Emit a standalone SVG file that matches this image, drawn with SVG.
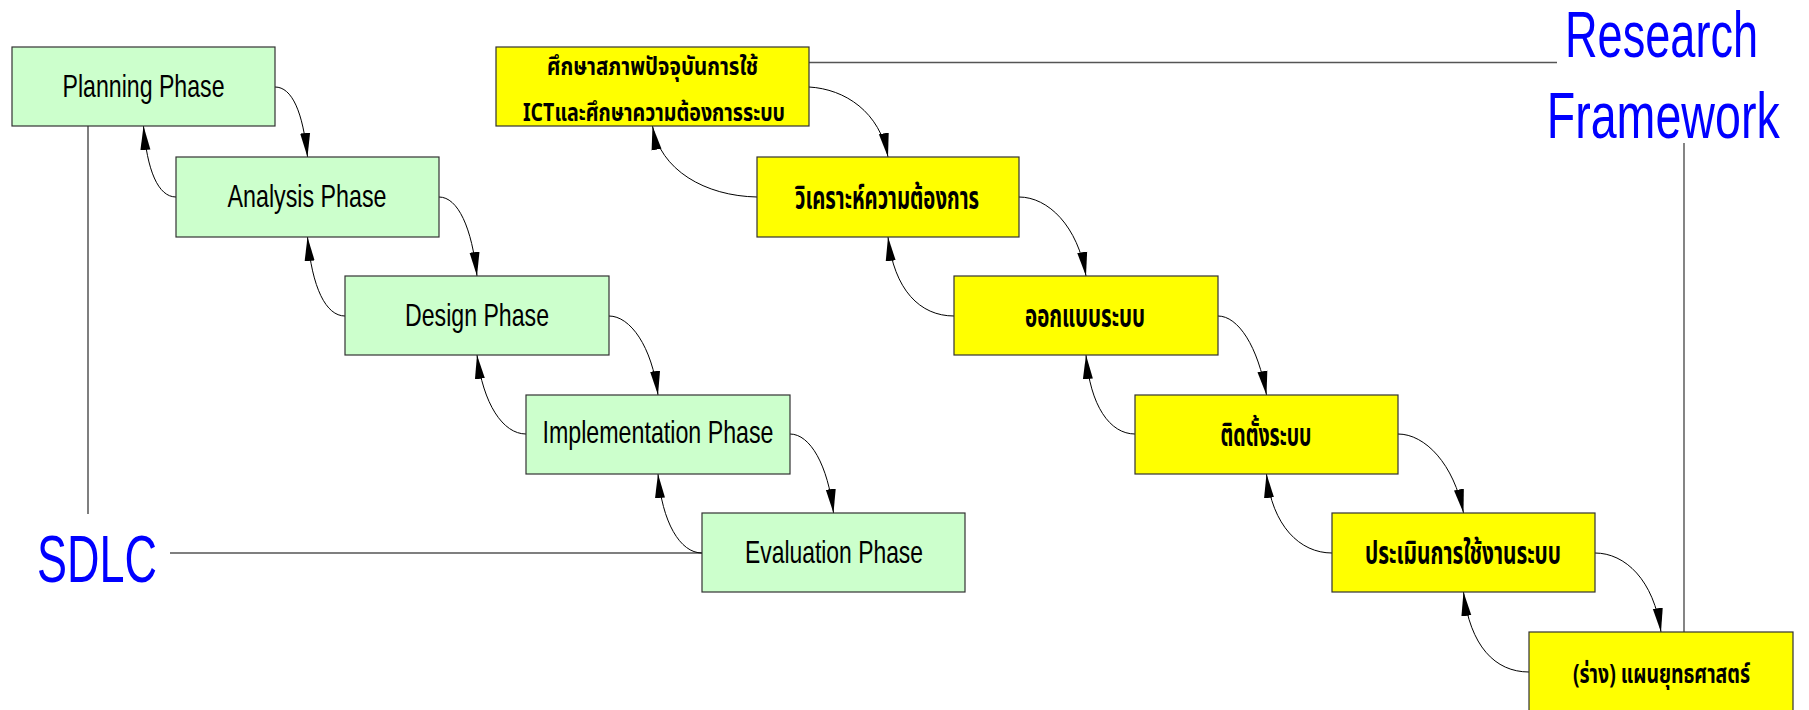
<svg xmlns="http://www.w3.org/2000/svg" width="1809" height="710" viewBox="0 0 1809 710">
  <defs>
    <marker id="ah" markerUnits="userSpaceOnUse" markerWidth="26" markerHeight="12" refX="24" refY="6" orient="auto">
      <path d="M0,1 L24,6 L0,11 z" fill="#000"/>
    </marker>
    <style>
      .g { fill: #CCFFCC; stroke: #333; stroke-width: 1.2; }
      .y { fill: #FFFF00; stroke: #333; stroke-width: 1.2; }
      .lbl { font-family: "Liberation Sans Narrow", "Liberation Sans", Arial, sans-serif; font-size: 32px; fill: #000; text-anchor: middle; }
      .th { font-family: "Noto Sans Thai", "Noto Sans Thai UI", "Loma", "Garuda", "Tlwg Typo", "Norasi", "Noto Sans", sans-serif; font-size: 31px; font-weight: bold; fill: #000; text-anchor: middle; }
      .th1 { font-size: 25px; }
      .big { font-family: "Liberation Sans", Arial, sans-serif; font-size: 66px; fill: #0000FF; }
      .c { fill: none; stroke: #000; stroke-width: 1; marker-end: url(#ah); }
      .ln { fill: none; stroke: #555; stroke-width: 1.5; }
    </style>
  </defs>

  <g id="connectors">
    <!-- guide lines -->
    <path class="ln" d="M88,126 L88,514"/>
    <path class="ln" d="M170,553 L702,553"/>
    <path class="ln" d="M809,62.5 L1557,62.5"/>
    <path class="ln" d="M1684,143 L1684,632" style="stroke:#333;stroke-width:1.2"/>
    <!-- green forward -->
    <path class="c" d="M275,87 C292,87 303,112 307.5,157"/>
    <path class="c" d="M439,197 C458,197 472,228 477,276"/>
    <path class="c" d="M609,316 C630,316 652,346 658,395"/>
    <path class="c" d="M790,434 C810,434 828,465 833.5,513"/>
    <!-- green back -->
    <path class="c" d="M176,197 C158,197 147,170 143.5,126"/>
    <path class="c" d="M345,316 C326,316 312,288 307.5,237"/>
    <path class="c" d="M526,434 C503,434 483,404 477,355"/>
    <path class="c" d="M702,553 C680,553 662,522 658,474"/>
    <!-- yellow forward -->
    <path class="c" d="M809,87 C845,89 880,112 888,157"/>
    <path class="c" d="M1019,197 C1048,197 1078,226 1086,276"/>
    <path class="c" d="M1218,316 C1238,316 1258,346 1266.5,395"/>
    <path class="c" d="M1398,434 C1425,434 1454,464 1463.5,513"/>
    <path class="c" d="M1595,553 C1625,553 1654,580 1661,632"/>
    <!-- yellow back -->
    <path class="c" d="M757,197 C705,196 660,170 652.5,126"/>
    <path class="c" d="M954,316 C920,316 894,290 888,237"/>
    <path class="c" d="M1135,434 C1110,434 1090,406 1086,355"/>
    <path class="c" d="M1332,553 C1300,553 1272,526 1266.5,474"/>
    <path class="c" d="M1529,672 C1495,672 1470,646 1463.5,592"/>
  </g>

  <g id="planning">
    <rect class="g" x="12" y="47" width="263" height="79"/>
    <text class="lbl" x="143.5" y="96.7" textLength="162" lengthAdjust="spacingAndGlyphs">Planning Phase</text>
  </g>
  <g id="analysis">
    <rect class="g" x="176" y="157" width="263" height="80"/>
    <text class="lbl" x="307" y="206.7" textLength="159" lengthAdjust="spacingAndGlyphs">Analysis Phase</text>
  </g>
  <g id="design">
    <rect class="g" x="345" y="276" width="264" height="79"/>
    <text class="lbl" x="477" y="325.7" textLength="144" lengthAdjust="spacingAndGlyphs">Design Phase</text>
  </g>
  <g id="implementation">
    <rect class="g" x="526" y="395" width="264" height="79"/>
    <text class="lbl" x="658" y="443" textLength="231" lengthAdjust="spacingAndGlyphs">Implementation Phase</text>
  </g>
  <g id="evaluation">
    <rect class="g" x="702" y="513" width="263" height="79"/>
    <text class="lbl" x="834" y="563.3" textLength="178" lengthAdjust="spacingAndGlyphs">Evaluation Phase</text>
  </g>

  <g id="study">
    <rect class="y" x="496" y="47" width="313" height="79"/>
    <text class="th th1" x="652.5" y="74.5" textLength="211" lengthAdjust="spacingAndGlyphs">ศึกษาสภาพปัจจุบันการใช้</text>
    <text class="th th1" x="654" y="121" textLength="262" lengthAdjust="spacingAndGlyphs">ICTและศึกษาความต้องการระบบ</text>
  </g>
  <g id="requirements">
    <rect class="y" x="757" y="157" width="262" height="80"/>
    <text class="th" x="887" y="209" textLength="184" lengthAdjust="spacingAndGlyphs">วิเคราะห์ความต้องการ</text>
  </g>
  <g id="system-design">
    <rect class="y" x="954" y="276" width="264" height="79"/>
    <text class="th" x="1085" y="326.7" textLength="120" lengthAdjust="spacingAndGlyphs">ออกแบบระบบ</text>
  </g>
  <g id="install">
    <rect class="y" x="1135" y="395" width="263" height="79"/>
    <text class="th" x="1266" y="445.7" textLength="91" lengthAdjust="spacingAndGlyphs">ติดตั้งระบบ</text>
  </g>
  <g id="assess">
    <rect class="y" x="1332" y="513" width="263" height="79"/>
    <text class="th" x="1463" y="564" textLength="196" lengthAdjust="spacingAndGlyphs">ประเมินการใช้งานระบบ</text>
  </g>
  <g id="strategy">
    <rect class="y" x="1529" y="632" width="264" height="79.5"/>
    <text class="th" x="1661.5" y="683" textLength="177" lengthAdjust="spacingAndGlyphs" style="font-size:27px">(ร่าง) แผนยุทธศาสตร์</text>
  </g>

  <g id="sdlc-label">
    <text class="big" transform="translate(37,582) scale(0.671,1)" x="0" y="0" style="font-size:67px">SDLC</text>
  </g>
  <g id="research-label">
    <text class="big" transform="translate(1565,57.3) scale(0.694,1)" x="0" y="0" style="font-size:65px">Research</text>
    <text class="big" transform="translate(1546.7,137.7) scale(0.717,1)" x="0" y="0" style="font-size:65px">Framework</text>
  </g>
</svg>
